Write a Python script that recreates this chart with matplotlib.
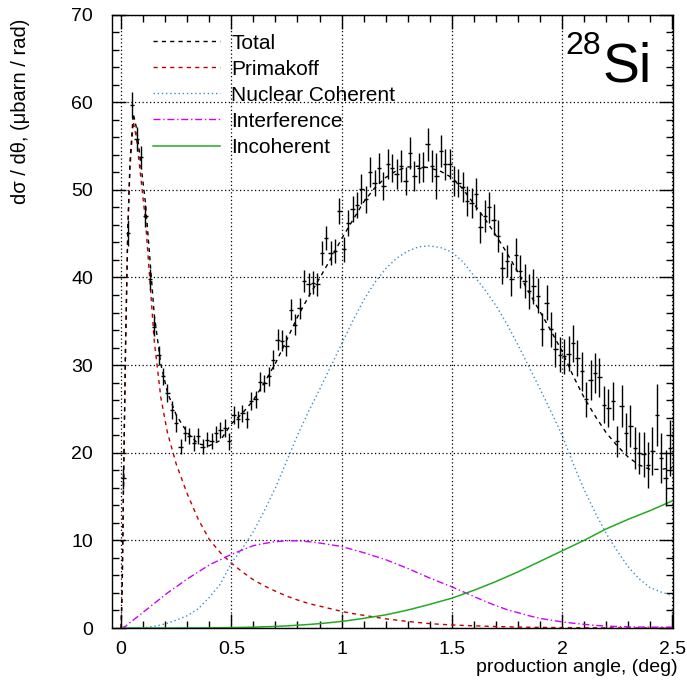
import numpy as np
import matplotlib
matplotlib.use('Agg')
import matplotlib.pyplot as plt
from matplotlib.ticker import MultipleLocator

plt.rcParams['font.family'] = ['Liberation Sans', 'DejaVu Sans']

# measured points, bins of 0.02 deg
bin_centers = np.arange(0.01, 2.5, 0.02)
counts = [17.1, 45.1, 59.7, 55.8, 53.7, 47.0, 39.8, 34.4, 31.1, 28.7, 26.8, 24.9, 23.4, 20.7, 22.2, 21.9, 21.1, 21.9, 20.7, 21.5, 21.3, 22.2, 22.6, 22.8, 21.3,
          24.3, 23.8, 24.5, 23.8, 25.9, 26.1, 28.1, 27.9, 28.7, 30.6, 32.9, 32.8, 32.2, 36.3, 34.6, 36.5, 39.6, 39.2, 39.4, 39.2, 42.8, 44.5, 42.8, 43.0, 47.6,
          43.2, 46.2, 47.8, 48.3, 50.1, 48.9, 52.0, 50.8, 52.5, 50.4, 52.9, 52.5, 51.8, 52.7, 51.0, 54.2, 51.6, 52.5, 52.6, 55.2, 52.7, 51.6, 54.4, 52.9, 52.9,
          51.0, 50.8, 50.3, 48.7, 48.5, 49.5, 45.7, 47.0, 48.0, 46.6, 44.7, 41.1, 41.9, 39.8, 42.6, 40.7, 39.6, 38.4, 39.0, 37.9, 34.1, 37.1, 34.1, 31.8, 31.2,
          31.0, 31.3, 32.5, 30.8, 29.3, 26.1, 28.3, 29.1, 28.6, 25.5, 25.1, 25.9, 21.3, 25.3, 22.2, 23.0, 20.5, 20.0, 19.8, 18.6, 20.2, 24.3, 19.4, 17.1, 20.5]
errors = [1.2, 1.5, 1.5, 1.4, 1.3, 1.3, 1.2, 1.1, 1.1, 1.0, 1.0, 1.0, 1.0, 0.9, 0.9, 0.9, 0.9, 0.9, 0.9, 0.9, 0.9, 0.9, 0.9, 1.0, 1.0,
          1.0, 1.0, 1.0, 1.0, 1.0, 1.0, 1.1, 1.0, 1.1, 1.1, 1.2, 1.2, 1.2, 1.2, 1.2, 1.2, 1.3, 1.3, 1.3, 1.3, 1.4, 1.4, 1.4, 1.4, 1.5,
          1.4, 1.5, 1.5, 1.5, 1.7, 1.5, 1.7, 1.5, 1.7, 1.6, 1.7, 1.6, 1.7, 1.8, 1.6, 1.8, 1.7, 1.7, 1.7, 1.9, 1.8, 2.6, 1.8, 1.8, 1.7,
          1.7, 1.6, 1.7, 1.7, 1.7, 1.8, 1.8, 1.8, 1.8, 1.8, 1.8, 1.8, 1.8, 1.9, 1.9, 1.9, 1.9, 2.0, 2.0, 2.0, 1.9, 2.0, 2.0, 2.0, 2.0,
          2.0, 2.0, 2.1, 2.1, 2.2, 2.0, 2.3, 2.3, 2.2, 2.1, 2.2, 2.2, 1.8, 2.4, 2.3, 2.4, 2.4, 2.4, 2.6, 2.6, 2.7, 3.5, 2.8, 3.2, 3.2]

# fit components
angle = [0, 0.005, 0.01, 0.02, 0.03, 0.04, 0.055, 0.07, 0.09, 0.11, 0.13, 0.15, 0.18, 0.21, 0.25, 0.3, 0.35, 0.4, 0.45,
         0.5, 0.55, 0.6, 0.65, 0.7, 0.75, 0.8, 0.85, 0.9, 0.95, 1.0, 1.05, 1.1, 1.15, 1.2, 1.25, 1.3, 1.35, 1.4, 1.45,
         1.5, 1.55, 1.6, 1.65, 1.7, 1.75, 1.8, 1.85, 1.9, 1.95, 2.0, 2.05, 2.1, 2.15, 2.2, 2.25, 2.3, 2.35, 2.4, 2.45, 2.5]
primakoff = [0, 5, 15, 32, 45, 52.5, 57.8, 55.8, 51.2, 46.6, 39.8, 32.8, 26.3, 22.3, 18.7, 15.3, 12.4, 10.1, 8.6,
             7.4, 6.4, 5.5, 4.8, 4.2, 3.65, 3.2, 2.8, 2.5, 2.2, 1.9, 1.65, 1.45, 1.25, 1.05, 0.9, 0.75, 0.62, 0.5, 0.42,
             0.35, 0.3, 0.25, 0.21, 0.17, 0.14, 0.11, 0.09, 0.07, 0.06, 0.05, 0.04, 0.03, 0.025, 0.02, 0.015, 0.01, 0.005, 0, 0, 0]
nuclear = [0, 0, 0, 0, 0, 0, 0.01, 0.02, 0.03, 0.06, 0.12, 0.2, 0.35, 0.55, 0.9, 1.4, 2.2, 3.5, 5.0,
           7.4, 9.1, 11.0, 13.4, 16.0, 19.0, 22.0, 24.7, 27.2, 29.8, 32.4, 35.0, 37.4, 39.4, 41.0, 42.2, 43.0, 43.5, 43.6, 43.4,
           42.9, 41.8, 40.2, 38.6, 36.8, 34.7, 32.3, 29.8, 27.3, 24.7, 22.0, 18.8, 15.8, 13.2, 10.8, 8.8, 7.0, 5.6, 4.6, 4.1, 3.7]
interference = [0, 0.05, 0.1, 0.2, 0.4, 0.6, 0.9, 1.2, 1.6, 2.0, 2.4, 2.8, 3.4, 4.0, 4.7, 5.6, 6.4, 7.2, 7.8,
                8.4, 8.9, 9.4, 9.65, 9.85, 9.95, 9.95, 9.85, 9.7, 9.5, 9.3, 8.95, 8.6, 8.2, 7.8, 7.3, 6.8, 6.25, 5.7, 5.2,
                4.7, 4.15, 3.6, 3.05, 2.55, 2.1, 1.75, 1.4, 1.1, 0.9, 0.7, 0.55, 0.42, 0.3, 0.22, 0.17, 0.13, 0.11, 0.1, 0.1, 0.1]
incoherent = [0, 0, 0, 0, 0, 0, 0, 0, 0, 0, 0, 0, 0, 0, 0, 0.01, 0.01, 0.02, 0.03,
              0.05, 0.07, 0.1, 0.14, 0.18, 0.24, 0.32, 0.4, 0.5, 0.62, 0.75, 0.92, 1.1, 1.3, 1.5, 1.77, 2.05, 2.37, 2.7, 3.05,
              3.4, 3.85, 4.3, 4.8, 5.3, 5.85, 6.4, 7.0, 7.6, 8.2, 8.8, 9.4, 10.0, 10.65, 11.3, 11.85, 12.4, 12.9, 13.4, 13.95, 14.5]
total = [0, 5, 15.1, 32.2, 45.4, 53.1, 58.7, 57.0, 52.8, 48.6, 42.3, 35.8, 30.1, 26.9, 24.3, 22.3, 21.0, 20.8, 21.4,
         23.3, 24.5, 26.0, 28.0, 30.2, 32.8, 35.5, 37.8, 39.9, 42.1, 44.4, 46.5, 48.6, 50.2, 51.4, 52.2, 52.6, 52.7, 52.5, 52.1,
         51.4, 50.1, 48.4, 46.7, 44.8, 42.8, 40.6, 38.3, 36.1, 33.9, 31.6, 28.8, 26.3, 24.2, 22.3, 20.8, 19.5, 18.6, 18.1, 18.1, 18.3]

fig = plt.figure(figsize=(6.87, 6.85), dpi=100)
ax = fig.add_axes([0.1635, 0.0832, 0.8166, 0.8956])

ax.errorbar(bin_centers, counts, xerr=0.01, yerr=errors, fmt='none', ecolor='black', elinewidth=1, capsize=0, zorder=3)

ax.plot(angle, total, color='black', lw=1, ls=(0, (3, 3)), label='Total', zorder=4)
ax.plot(angle, primakoff, color='#c00000', lw=1, ls=(0, (3, 3)), label='Primakoff')
ax.plot(angle, nuclear, color='#3b8ec4', lw=1, ls=(0, (1, 2)), label='Nuclear Coherent')
ax.plot(angle, interference, color='#cc00ff', lw=1, ls=(0, (5, 2, 1, 2)), label='Interference')
ax.plot(angle, incoherent, color='#22aa22', lw=1.1, ls='-', label='Incoherent')

ax.set_xlim(-0.04, 2.505)
ax.set_ylim(0, 70)
ax.xaxis.set_major_locator(MultipleLocator(0.5))
ax.xaxis.set_minor_locator(MultipleLocator(0.1))
ax.yaxis.set_major_locator(MultipleLocator(10))
ax.yaxis.set_minor_locator(MultipleLocator(2))
ax.set_xticks([0, 0.5, 1, 1.5, 2, 2.5])
ax.set_xticklabels(['0', '0.5', '1', '1.5', '2', '2.5'])
ax.tick_params(which='both', direction='in', top=True, right=True, labelsize=14, width=1)
ax.tick_params(which='major', length=10, pad=9)
ax.tick_params(which='minor', length=5)
ax.tick_params(axis='y', which='major', pad=14)
ax.grid(True, which='major', color='black', ls=(0, (1, 2)), lw=0.9)
for s in ax.spines.values():
    s.set_linewidth(1)

leg = ax.legend(loc='upper left', bbox_to_anchor=(0.073, 0.969), frameon=False, fontsize=15,
                handlelength=3.2, handletextpad=0.55, labelspacing=0.34, borderpad=0, borderaxespad=0)

# nucleus label
ax.text(0.873, 0.891, 'Si', transform=ax.transAxes, fontsize=40, va='baseline', ha='left')
ax.text(0.871, 0.936, '28', transform=ax.transAxes, fontsize=23, va='baseline', ha='right')

fig.text(678 / 687, 1 - 668 / 685, 'production angle, (deg)', ha='right', va='center', fontsize=14)
fig.text(21 / 687, 1 - 19 / 685, 'd\u03c3 / d\u03b8, (\u03bcbarn / rad)', ha='center', va='top', rotation=90, fontsize=14.5)

fig.savefig('out.png', dpi=100)
